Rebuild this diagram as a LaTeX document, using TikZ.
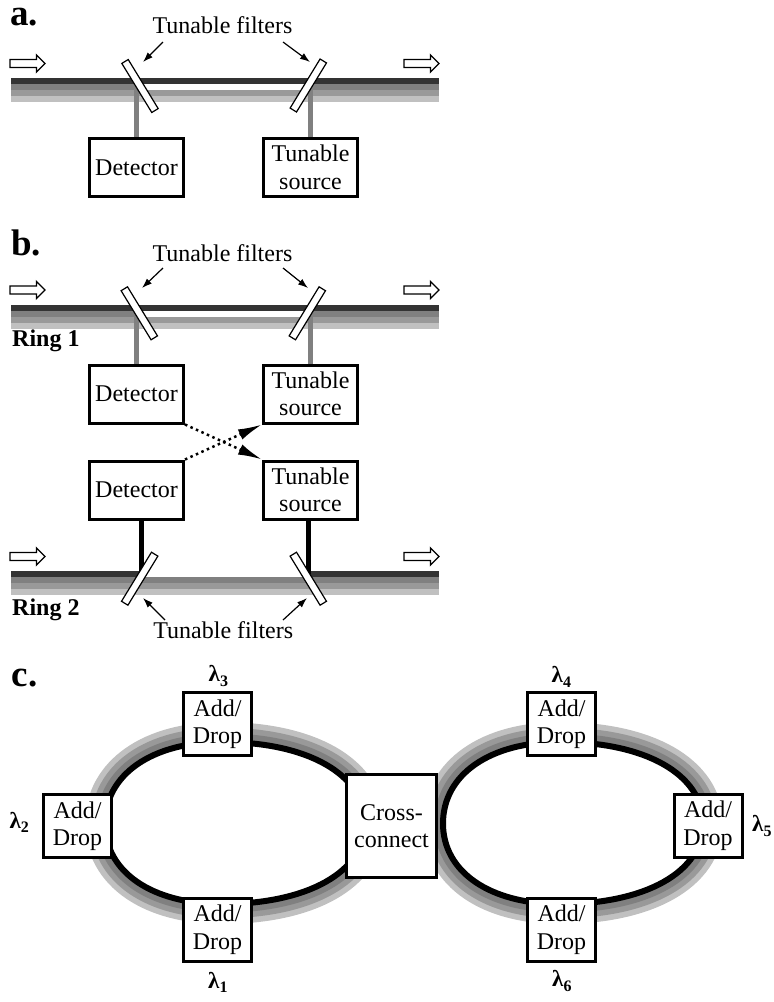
\documentclass[tikz,border=0pt]{standalone}
\usepackage{fontspec}
\setmainfont{Liberation Serif}
\usetikzlibrary{arrows.meta,calc,backgrounds}
\definecolor{busdark}{HTML}{333333}
\definecolor{gA}{HTML}{808080}
\definecolor{gB}{HTML}{999999}
\definecolor{gC}{HTML}{C0C0C0}
\newcommand{\lamsub}[1]{λ\raisebox{-4.5pt}{\fontsize{16}{16}\selectfont\bfseries #1}}
\tikzset{
  harrow/.pic={\draw[line width=1.3pt,fill=white] (0,-4) -- (26.5,-4) -- (26.5,-8.5) -- (35,0) -- (26.5,8.5) -- (26.5,4) -- (0,4) -- cycle;},
  eggring/.pic={
    \draw[line width=6pt,black,fill=white,
      preaction={draw=gC,line width=40pt},
      preaction={draw=gB,line width=28.6pt},
      preaction={draw=gA,line width=17.4pt}]
      (-117,0) .. controls (-117,-48.9) and (-70.2,-81.5) .. (0,-81.5)
      .. controls (85.8,-81.5) and (143,-48.9) .. (143,0)
      .. controls (143,48.3) and (85.8,80.5) .. (0,80.5)
      .. controls (-70.2,80.5) and (-117,48.3) .. (-117,0) -- cycle;
  }
}
\begin{document}
\begin{tikzpicture}[x=1pt,y=-1pt,
  every node/.style={font=\fontsize{24}{27.5}\selectfont},
  box/.style={draw,line width=3pt,fill=white,inner sep=0pt,minimum width=94pt,minimum height=58pt,align=center},
  adbox/.style={box,minimum width=68pt,minimum height=63pt},
  ccbox/.style={box,minimum width=90pt,minimum height=103pt},
  filt/.style={draw,line width=1.2pt,fill=white,inner sep=0pt,minimum width=57.5pt,minimum height=7.5pt},
  ptr/.style={line width=1.2pt,-{Latex[length=10pt,width=7pt]}},
  dotarrow/.style={line width=2.5pt,dash pattern=on 2.5pt off 3.5pt,-{Latex[length=24pt,width=11pt]}},
  panel/.style={font=\fontsize{37}{37}\selectfont\bfseries,anchor=base west,inner sep=0pt},
  ringlabel/.style={font=\fontsize{24}{27.5}\selectfont\bfseries,anchor=base west,inner sep=0pt},
  lam/.style={font=\fontsize{23}{24}\selectfont\bfseries,anchor=base west,inner sep=0pt},
  caption/.style={anchor=base,inner sep=0pt},
  dropgray/.style={line width=5.5pt,gA},
  dropblack/.style={line width=5pt,black}]
\useasboundingbox (0,0) rectangle (774,1002);

% ---------------- panel a ----------------
\node[panel] (la) at (10,25) {a.};
\node[caption] (tfa) at (222.5,33) {Tunable filters};
\node[box] (deta) at (136.5,167.5) {Detector};
\node[box] (srca) at (310.5,167.5) {Tunable\\source};
\node[filt,rotate=-58.6] (fa1) at (140,86) {};
\node[filt,rotate=58.6] (fa2) at (308.3,85.5) {};
\begin{pgfonlayer}{background}
  \fill[busdark] (11,78.3) rectangle (439,83.5);
  \fill[gA] (11,83.5) rectangle (140,89.5);
  \fill[gA] (308.3,83.5) rectangle (439,89.5);
  \fill[gB] (11,89.5) rectangle (439,95.5);
  \fill[gC] (11,95.5) rectangle (439,101.5);
  \draw[dropgray] (fa1.center -| deta.north) -- (deta.north);
  \draw[dropgray] (fa2.center -| srca.north) -- (srca.north);
\end{pgfonlayer}
\pic at (10,63.5) {harrow};
\pic at (404,63.5) {harrow};
\coordinate (pa1s) at (163,42); \coordinate (pa1e) at (143,62);
\coordinate (pa2s) at (283,42); \coordinate (pa2e) at (310,62);
\draw[ptr] (pa1s) -- (pa1e);
\draw[ptr] (pa2s) -- (pa2e);

% ---------------- panel b ----------------
\node[panel] (lb) at (11,255) {b.};
\node[caption] (tfb) at (222.5,261.7) {Tunable filters};
\node[ringlabel] (r1) at (12,346.7) {Ring 1};
\node[box] (detb1) at (136.5,394) {Detector};
\node[box] (srcb1) at (310.5,394) {Tunable\\source};
\node[box] (detb2) at (136.5,490) {Detector};
\node[box] (srcb2) at (310.5,490) {Tunable\\source};
\node[filt,rotate=-58.6] (fb1) at (139.3,313.3) {};
\node[filt,rotate=58.6] (fb2) at (307.3,313.3) {};
\node[filt,rotate=58.6] (fb3) at (139.7,578.7) {};
\node[filt,rotate=-58.6] (fb4) at (308.3,578.7) {};
\coordinate (jb3) at (141.5,574);
\coordinate (jb4) at (308,574);
\begin{pgfonlayer}{background}
  \fill[busdark] (11,305) rectangle (439,310.5);
  \fill[gA] (11,310.5) rectangle (139.3,316.5);
  \fill[gA] (307.3,310.5) rectangle (439,316.5);
  \fill[gB] (11,316.5) rectangle (439,322.5);
  \fill[gC] (11,322.5) rectangle (439,328.5);
  \draw[dropgray] (fb1.center -| detb1.north) -- (detb1.north);
  \draw[dropgray] (fb2.center -| srcb1.north) -- (srcb1.north);
  \fill[busdark] (11,571) rectangle (139.7,576.5);
  \fill[busdark] (308.3,571) rectangle (439,576.5);
  \fill[gA] (11,576.5) rectangle (439,582.5);
  \fill[gB] (11,582.5) rectangle (439,588.5);
  \fill[gC] (11,588.5) rectangle (439,594.5);
  \draw[dropblack] (jb3 |- detb2.south) -- (jb3);
  \draw[dropblack] (jb4 |- srcb2.south) -- (jb4);
\end{pgfonlayer}
\pic at (10,290) {harrow};
\pic at (404,290) {harrow};
\pic at (10,556.5) {harrow};
\pic at (404,556.5) {harrow};
\node[ringlabel] (r2) at (12,615) {Ring 2};
\node[caption] (tfb2) at (223.3,638.3) {Tunable filters};
\coordinate (pb1s) at (163,268); \coordinate (pb1e) at (142,288);
\coordinate (pb2s) at (283,268); \coordinate (pb2e) at (308,288);
\coordinate (pb3s) at (165,620); \coordinate (pb3e) at (143,598);
\coordinate (pb4s) at (283,620); \coordinate (pb4e) at (307,598);
\draw[ptr] (pb1s) -- (pb1e);
\draw[ptr] (pb2s) -- (pb2e);
\draw[ptr] (pb3s) -- (pb3e);
\draw[ptr] (pb4s) -- (pb4e);
\draw[dotarrow] (detb1.south east) -- (srcb2.north west);
\draw[dotarrow] (detb2.north east) -- (srcb1.south west);

% ---------------- panel c ----------------
\node[panel] (lc) at (11.7,686.7) {c.};
\pic at (222,823.5) {eggring};
\begin{scope}[shift={(560,823.5)},xscale=-1]
  \pic at (0,0) {eggring};
\end{scope}
\node[adbox] (ad3) at (217.5,724) {Add/\\Drop};
\node[adbox] (ad2) at (77.5,826) {Add/\\Drop};
\node[adbox] (ad1) at (217.5,929.5) {Add/\\Drop};
\node[ccbox] (cc) at (391.5,826) {Cross-\\connect};
\node[adbox] (ad4) at (561.5,724) {Add/\\Drop};
\node[adbox] (ad5) at (708,825.5) {Add/\\Drop};
\node[adbox] (ad6) at (561.5,929.5) {Add/\\Drop};
\node[lam] (l3) at (208.5,681.5) {\lamsub{3}};
\node[lam] (l1) at (208,988) {\lamsub{1}};
\node[lam] (l2) at (9.5,828) {\lamsub{2}};
\node[lam] (l4) at (551.5,682.5) {\lamsub{4}};
\node[lam] (l5) at (752,831.5) {\lamsub{5}};
\node[lam] (l6) at (552,986.5) {\lamsub{6}};
\end{tikzpicture}
\end{document}
